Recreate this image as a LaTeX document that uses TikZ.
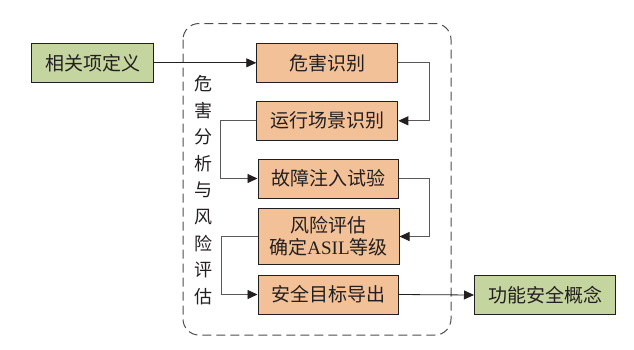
\documentclass[tikz,border=0pt]{standalone}
\usepackage{fontspec}
\setmainfont{Liberation Serif}
\newfontfamily\cjk{Noto Sans CJK SC}
\usetikzlibrary{arrows.meta}
\definecolor{peach}{HTML}{F2C197}
\definecolor{sage}{HTML}{C4D59F}
\definecolor{ink}{HTML}{231F20}
\tikzset{
  boxbase/.style={draw=ink, line width=1pt, minimum height=39pt, inner sep=0pt,
    text=ink, font=\cjk\fontsize{19}{22}\selectfont, align=center},
  stepbox/.style={boxbase, fill=peach, minimum width=141pt},
  greenbox/.style={boxbase, fill=sage},
  conn/.style={draw=ink, line width=0.8pt, -{Triangle[length=10pt,width=9pt]}},
  elbow/.style={draw=black!65, line width=0.8pt, -{Triangle[length=10pt,width=9pt,color=ink,fill=ink]}},
}
\begin{document}
\begin{tikzpicture}[x=1pt,y=-1pt]
\useasboundingbox (0,0) rectangle (634,349);
% dashed frame
\draw[ink!80, line width=1pt, dash pattern=on 9pt off 5pt, rounded corners=16pt]
  (183,23.5) rectangle (451,335);
% nodes
\node[greenbox, minimum width=122pt] (g1) at (92.7,62.8) {相关项定义};
\node[stepbox] (b1) at (327.3,62.8) {危害识别};
\node[stepbox] (b2) at (327.3,120.8) {运行场景识别};
\node[stepbox, minimum width=140pt] (b3) at (328,178.5) {故障注入试验};
\node[stepbox, minimum height=55.6pt] (b4) at (328.5,236.5) {风险评估\\确定{\rmfamily ASIL}等级};
\node[stepbox, minimum width=140pt] (b5) at (328,294.5) {安全目标导出};
\node[greenbox, minimum width=141pt] (g2) at (545,295) {功能安全概念};
\node[inner sep=0pt, align=center, text=ink, font=\cjk\fontsize{18}{26.6}\selectfont]
  (vt) at (203.6,190) {危\\害\\分\\析\\与\\风\\险\\评\\估};
% connectors
\draw[conn] (g1.east) -- (b1.west);
\draw[conn] (b5.east) -- (g2.west);
\draw[elbow] (b1.east) -- ++(31,0) |- (b2.east);
\draw[elbow] (b2.west) -- ++(-36,0) |- (b3.west);
\draw[elbow] (b3.east) -- ++(31,0) |- (b4.east);
\draw[elbow] (b4.west) -- ++(-36,0) |- (b5.west);
\end{tikzpicture}
\end{document}
